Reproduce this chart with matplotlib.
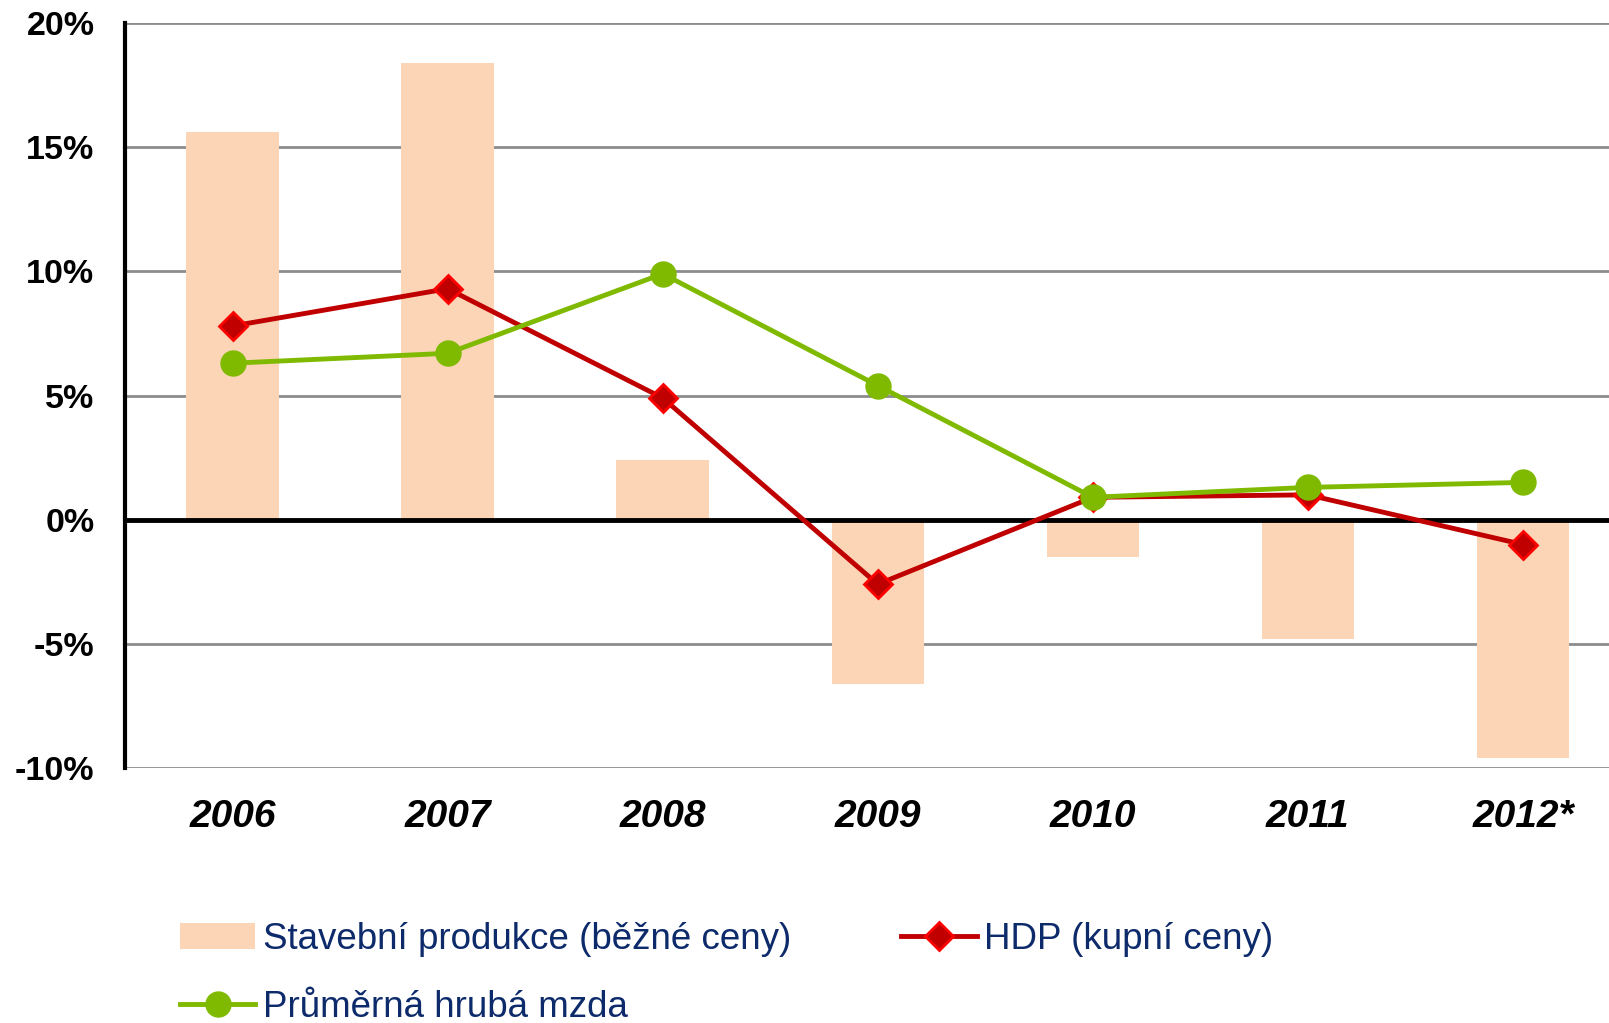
import matplotlib
matplotlib.use("Agg")
import matplotlib.pyplot as plt
from matplotlib.ticker import FuncFormatter
from matplotlib.lines import Line2D
from matplotlib.patches import Patch

years = ["2006", "2007", "2008", "2009", "2010", "2011", "2012*"]
stavebni = [15.6, 18.4, 2.4, -6.6, -1.5, -4.8, -9.6]
hdp = [7.8, 9.3, 4.9, -2.6, 0.9, 1.0, -1.0]
mzda = [6.3, 6.7, 9.9, 5.4, 0.9, 1.3, 1.5]
yticks = [-10, -5, 0, 5, 10, 15, 20]

plt.rcParams['font.family'] = ['Liberation Sans', 'DejaVu Sans']

fig = plt.figure(figsize=(16.09, 10.23), dpi=100)
ax = fig.add_axes([125/1609, 1 - 768/1023, 1 - 125/1609, (768 - 23)/1023])

x = list(range(len(years)))
ax.bar(x, stavebni, width=0.43, color='#FBD5B5', zorder=2)
ax.axhline(0, color='black', lw=3.5, zorder=3)
ax.plot(x, hdp, color='#C00000', lw=3.5, marker='D', markersize=14,
        markerfacecolor='#C00000', markeredgecolor='#FF0000', markeredgewidth=2, zorder=4)
ax.plot(x, mzda, color='#7FBA00', lw=3.5, marker='o', markersize=18,
        markerfacecolor='#7FBA00', markeredgecolor='#7FBA00', zorder=5)

ax.set_ylim(-10, 20)
ax.set_xlim(-0.5, 6.4)
ax.set_yticks(yticks)
ax.yaxis.set_major_formatter(FuncFormatter(lambda v, p: f"{int(v)}%"))
ax.set_xticks(x)
ax.set_xticklabels(years, fontsize=28, fontweight='bold', fontstyle='italic')
for lab in ax.get_yticklabels():
    lab.set_fontsize(24.5)
    lab.set_fontweight('bold')
ax.tick_params(axis='y', length=0, pad=22)
ax.tick_params(axis='x', length=0, pad=22)
ax.grid(axis='y', color='#8C8C8C', lw=2, zorder=1)
ax.set_axisbelow(True)
for s in ['top', 'right', 'bottom']:
    ax.spines[s].set_visible(False)
ax.spines['left'].set_color('black')
ax.spines['left'].set_linewidth(3)

h_bar = Patch(facecolor='#FBD5B5', edgecolor='none')
h_hdp = Line2D([], [], color='#C00000', lw=3.5, marker='D', markersize=14,
               markerfacecolor='#C00000', markeredgecolor='#FF0000', markeredgewidth=2)
h_mzda = Line2D([], [], color='#7FBA00', lw=3.5, marker='o', markersize=18,
                markerfacecolor='#7FBA00', markeredgecolor='#7FBA00')
leg = fig.legend([h_bar, h_mzda, h_hdp],
                 ["Stavební produkce (běžné ceny)", "Průměrná hrubá mzda", "HDP (kupní ceny)"],
                 ncol=2, loc='upper left', bbox_to_anchor=(180/1609, 1 - 922/1023),
                 frameon=False, fontsize=26.5, handlelength=2.05, handleheight=0.7,
                 handletextpad=0.2, columnspacing=3.0, labelspacing=0.9,
                 borderaxespad=0, borderpad=0)
for t in leg.get_texts():
    t.set_color('#0D2A6B')

fig.savefig("out.png", dpi=100)
